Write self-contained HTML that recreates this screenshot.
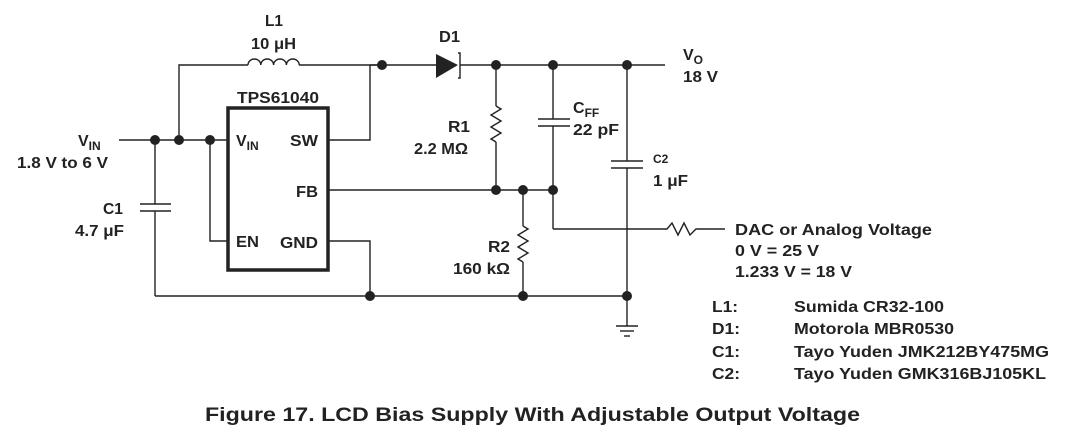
<!DOCTYPE html>
<html><head><style>
html,body{margin:0;padding:0;background:#fff;}
svg{display:block;}
text{font-family:"Liberation Sans",Arial,sans-serif;font-weight:bold;font-size:16px;fill:#222;}
</style></head><body>
<svg width="1082" height="447" viewBox="0 0 1082 447">
<g stroke="#222" stroke-width="1.4" fill="none">
<polyline points="179,140 179,65 248,65"/>
<path d="M248,65 a6.4,6 0 0 1 12.8,0 a6.4,6 0 0 1 12.8,0 a6.4,6 0 0 1 12.8,0 a6.4,6 0 0 1 12.8,0"/>
<line x1="299" y1="65" x2="436" y2="65"/>
<line x1="460" y1="65" x2="665" y2="65"/>
<line x1="119" y1="140" x2="228" y2="140"/>
<polyline points="328,140 370,140 370,65"/>
<polyline points="210,140 210,241 228,241"/>
<line x1="328" y1="190" x2="553" y2="190"/>
<polyline points="328,241 370,241 370,296"/>
<line x1="155" y1="296" x2="627" y2="296"/>
<line x1="155" y1="140" x2="155" y2="204"/>
<line x1="155" y1="211" x2="155" y2="296"/>
<line x1="140" y1="204" x2="171" y2="204"/>
<line x1="140" y1="211" x2="171" y2="211"/>
<line x1="496" y1="65" x2="496" y2="106"/>
<polyline points="496,106 501,109 491,115 501,121 491,127 501,133 491,139 496,142"/>
<line x1="496" y1="142" x2="496" y2="190"/>
<line x1="553" y1="65" x2="553" y2="119"/>
<line x1="553" y1="126" x2="553" y2="229"/>
<line x1="538" y1="119" x2="570" y2="119"/>
<line x1="538" y1="126" x2="570" y2="126"/>
<line x1="627" y1="65" x2="627" y2="161"/>
<line x1="627" y1="168" x2="627" y2="326"/>
<line x1="611" y1="161" x2="643" y2="161"/>
<line x1="611" y1="168" x2="643" y2="168"/>
<line x1="523" y1="190" x2="523" y2="226"/>
<polyline points="523,226 528,229 518,235 528,241 518,247 528,253 518,259 523,262"/>
<line x1="523" y1="262" x2="523" y2="296"/>
<polyline points="553,229 662,229"/>
<polyline points="662,229 667,229 672,223 678,235 684,223 690,235 696,229 712,229 725,229"/>
<line x1="616" y1="326" x2="638" y2="326"/>
<line x1="620" y1="331" x2="634" y2="331"/>
<line x1="624" y1="336" x2="630" y2="336"/>
<rect x="228" y="108" width="100" height="162" stroke-width="3.5"/>
<polyline points="458,53 460,53 460,78 458,78"/>
</g>
<polygon points="436,54 436,78 458,65" fill="#222"/>
<g fill="#222">
<circle cx="155" cy="140" r="5"/><circle cx="179" cy="140" r="5"/><circle cx="210" cy="140" r="5"/>
<circle cx="382" cy="65" r="5"/><circle cx="496" cy="65" r="5"/><circle cx="553" cy="65" r="5"/><circle cx="627" cy="65" r="5"/>
<circle cx="496" cy="190" r="5"/><circle cx="523" cy="190" r="5"/><circle cx="553" cy="190" r="5"/>
<circle cx="370" cy="296" r="5"/><circle cx="523" cy="296" r="5"/><circle cx="627" cy="296" r="5"/>
</g>
<line x1="370" y1="65" x2="382" y2="65" stroke="#222" stroke-width="1.4"/>
<text x="265" y="26" textLength="18" lengthAdjust="spacingAndGlyphs">L1</text>
<text x="251" y="49" textLength="45" lengthAdjust="spacingAndGlyphs">10 μH</text>
<text x="439" y="42" textLength="21" lengthAdjust="spacingAndGlyphs">D1</text>
<text x="683" y="60">V<tspan font-size="12" dy="4">O</tspan></text>
<text x="683" y="82" textLength="35" lengthAdjust="spacingAndGlyphs">18 V</text>
<text x="237" y="103" textLength="82" lengthAdjust="spacingAndGlyphs">TPS61040</text>
<text x="78" y="146">V<tspan font-size="12" dy="4">IN</tspan></text>
<text x="17" y="168" textLength="91" lengthAdjust="spacingAndGlyphs">1.8 V to 6 V</text>
<text x="236" y="146">V<tspan font-size="12" dy="4">IN</tspan></text>
<text x="290" y="146" textLength="28" lengthAdjust="spacingAndGlyphs">SW</text>
<text x="296" y="197" textLength="22" lengthAdjust="spacingAndGlyphs">FB</text>
<text x="236" y="247" textLength="23" lengthAdjust="spacingAndGlyphs">EN</text>
<text x="280" y="248" textLength="38" lengthAdjust="spacingAndGlyphs">GND</text>
<text x="103" y="214" textLength="20" lengthAdjust="spacingAndGlyphs">C1</text>
<text x="75" y="236" textLength="49" lengthAdjust="spacingAndGlyphs">4.7 μF</text>
<text x="448" y="132" textLength="22" lengthAdjust="spacingAndGlyphs">R1</text>
<text x="414" y="154" textLength="54" lengthAdjust="spacingAndGlyphs">2.2 MΩ</text>
<text x="573" y="113">C<tspan font-size="12" dy="4">FF</tspan></text>
<text x="573" y="135" textLength="46" lengthAdjust="spacingAndGlyphs">22 pF</text>
<text x="653" y="163" style="font-size:12px">C2</text>
<text x="653" y="186" textLength="35" lengthAdjust="spacingAndGlyphs">1 μF</text>
<text x="488" y="252" textLength="22" lengthAdjust="spacingAndGlyphs">R2</text>
<text x="453" y="274" textLength="57" lengthAdjust="spacingAndGlyphs">160 kΩ</text>
<text x="735" y="235" textLength="197" lengthAdjust="spacingAndGlyphs">DAC or Analog Voltage</text>
<text x="735" y="256" textLength="84" lengthAdjust="spacingAndGlyphs">0 V = 25 V</text>
<text x="735" y="277" textLength="117" lengthAdjust="spacingAndGlyphs">1.233 V = 18 V</text>
<text x="712" y="312" textLength="26" lengthAdjust="spacingAndGlyphs">L1:</text><text x="794" y="312" textLength="150" lengthAdjust="spacingAndGlyphs">Sumida CR32-100</text>
<text x="712" y="334" textLength="28" lengthAdjust="spacingAndGlyphs">D1:</text><text x="794" y="334" textLength="160" lengthAdjust="spacingAndGlyphs">Motorola MBR0530</text>
<text x="712" y="357" textLength="28" lengthAdjust="spacingAndGlyphs">C1:</text><text x="794" y="357" textLength="255" lengthAdjust="spacingAndGlyphs">Tayo Yuden JMK212BY475MG</text>
<text x="712" y="379" textLength="28" lengthAdjust="spacingAndGlyphs">C2:</text><text x="794" y="379" textLength="252" lengthAdjust="spacingAndGlyphs">Tayo Yuden GMK316BJ105KL</text>
<text x="205" y="421" style="font-size:19.5px" textLength="655" lengthAdjust="spacingAndGlyphs">Figure 17. LCD Bias Supply With Adjustable Output Voltage</text>
</svg>
</body></html>
